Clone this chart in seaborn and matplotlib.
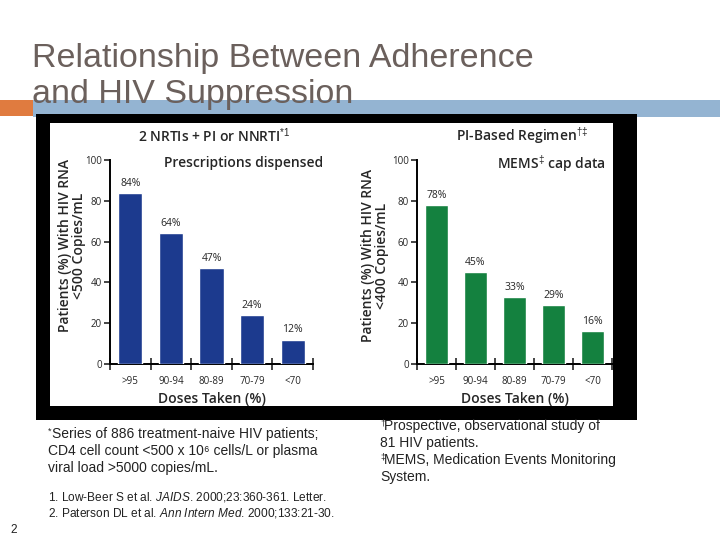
import matplotlib
matplotlib.use("Agg")
import matplotlib.pyplot as plt
from matplotlib.patches import Rectangle
import seaborn as sns

# data
doses = [">95", "90-94", "80-89", "70-79", "<70"]
rx_dispensed = [84, 64, 47, 24, 12]
mems_cap = [78, 45, 33, 29, 16]
y_ticks = [0, 20, 40, 60, 80, 100]

BLUE = "#1c3a8e"
GREEN = "#14813f"

sns.set_style("ticks")
plt.rcParams["font.family"] = ["Open Sans", "DejaVu Sans"]
plt.rcParams["mathtext.fontset"] = "custom"
plt.rcParams["mathtext.rm"] = "Liberation Sans"
plt.rcParams["mathtext.it"] = "Liberation Sans:italic"

W, H = 720, 540
fig = plt.figure(figsize=(7.2, 5.4), dpi=100)


def box(x, y, w, h):
    # pixel box (top-left origin) -> figure fraction
    return [x / W, 1 - (y + h) / H, w / W, h / H]


def fy(y):
    return 1 - y / H


def rect(x, y, w, h, color, z):
    l, b, ww, hh = box(x, y, w, h)
    fig.add_artist(Rectangle((l, b), ww, hh, transform=fig.transFigure,
                             facecolor=color, edgecolor="none", zorder=z))


# slide decoration (behind the axes)
rect(0, 100, 33, 16, "#e07b3f", -3)
rect(33, 100, 687, 17, "#94b4d2", -3)
rect(36, 114, 601, 306, "black", -2)
rect(50, 123, 563, 283, "white", -1)

title_kw = dict(fontsize=24.5, color="#6b605c", family="Liberation Sans", va="baseline", zorder=5)
fig.text(32 / W, fy(67), "Relationship Between Adherence", **title_kw)
fig.text(32 / W, fy(103), "and HIV Suppression", **title_kw)


def draw_panel(ax, values, color, ylab, lab_xy, header, note, header_x, note_x):
    sns.barplot(x=doses, y=values, color=color, saturation=1, width=0.6, ax=ax, zorder=3)
    ax.set_facecolor("none")
    ax.set_xlim(-0.5, 4.5)
    ax.set_ylim(0, 100)
    ax.set_yticks(y_ticks)
    ax.tick_params(axis="y", labelsize=7, length=4, width=1.2, pad=2)
    ax.tick_params(axis="x", which="major", length=0, labelsize=7, pad=9)
    ax.set_xticks([i - 0.5 for i in range(len(doses) + 1)], minor=True)
    ax.tick_params(axis="x", which="minor", direction="inout", length=9, width=1.2)
    sns.despine(ax=ax)
    for s in ("left", "bottom"):
        ax.spines[s].set_linewidth(1.4)
        ax.spines[s].set_color("black")
    ax.set_xlabel("Doses Taken (%)", fontsize=10, fontweight="semibold", labelpad=3)
    ax.set_ylabel(ylab, fontsize=10, fontweight="semibold", linespacing=1.0)
    ax.yaxis.set_label_coords(*lab_xy)
    for i, v in enumerate(values):
        ax.text(i, v + 2, f"{v}%", ha="center", va="bottom", fontsize=7.5)
    ax.text(note_x, 0.985, note, transform=ax.transAxes, ha="right", va="center",
            fontsize=10, fontweight="semibold")
    fig.text(header_x / W, fy(136), header, ha="center", va="center",
             fontsize=10, fontweight="semibold")


ax1 = fig.add_axes(box(110, 160, 203, 204))
draw_panel(ax1, rx_dispensed, BLUE, "Patients (%) With HIV RNA\n<500 Copies/mL", (-0.12, 0.58),
           r"2 NRTIs + PI or NNRTI$^{*1}$", "Prescriptions dispensed", 214, 1.05)

ax2 = fig.add_axes(box(417, 160, 195, 204))
draw_panel(ax2, mems_cap, GREEN, "Patients (%) With HIV RNA\n<400 Copies/mL", (-0.145, 0.53),
           "PI-Based Regimen$^{\u2020\u2021}$", "MEMS$^{\u2021}$ cap data", 522, 0.97)

# footnotes
foot_kw = dict(fontsize=10, color="#222222", family=["Liberation Sans", "DejaVu Sans"], va="baseline")
mark_kw = dict(foot_kw, fontsize=6.5)


def foot(x, y, text, mark=None):
    if mark:
        fig.text(x / W, fy(y - 4), mark, **mark_kw)
        x += 4.5
    fig.text(x / W, fy(y), text, **foot_kw)


foot(48, 438, "Series of 886 treatment-naive HIV patients;", "*")
foot(48, 455, "CD4 cell count <500 x 10\u2076 cells/L or plasma")
foot(48, 472, "viral load >5000 copies/mL.")

foot(380, 430, "Prospective, observational study of", "\u2020")
foot(380, 447, "81 HIV patients.")
foot(380, 464, "MEMS, Medication Events Monitoring", "\u2021")
foot(380, 481, "System.")

ref_kw = dict(foot_kw, fontsize=8.6)
fig.text(48 / W, fy(500), r"1. Low-Beer S et al. $\mathit{JAIDS}$. 2000;23:360-361. Letter.", **ref_kw)
fig.text(48 / W, fy(517), r"2. Paterson DL et al. $\mathit{Ann\ Intern\ Med}$. 2000;133:21-30.", **ref_kw)
fig.text(10 / W, fy(533), "2", **ref_kw)

fig.savefig("out.png", dpi=100)
